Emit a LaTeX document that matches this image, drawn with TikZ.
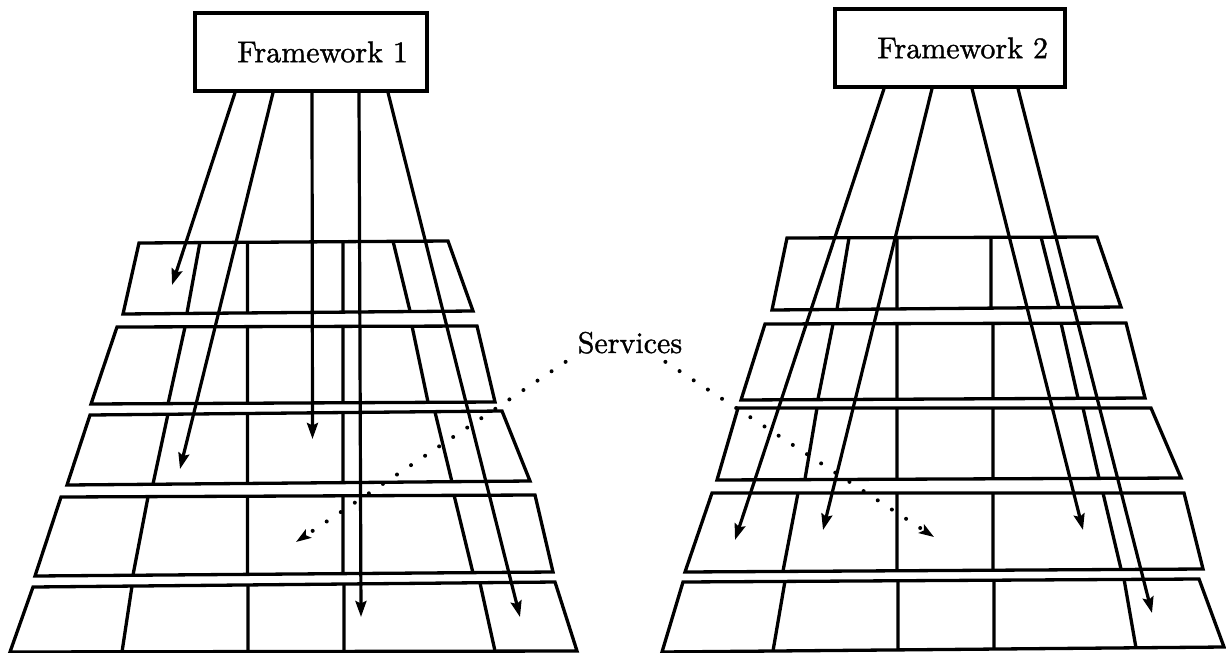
\documentclass[tikz,border=0pt]{standalone}
\usepackage{fontspec}
\newfontfamily\figfont{lmroman10-regular.otf}[FakeBold=1.2]
\usetikzlibrary{arrows.meta,calc}
\begin{document}
\begin{tikzpicture}[x=1pt,y=-1pt,
  cell/.style={line width=3.3pt, line join=miter},
  fwbox/.style={draw, line width=3.3pt, inner sep=0pt, minimum height=78pt,
    align=right, font=\figfont\fontsize{30}{36}\selectfont},
  svclabel/.style={inner sep=0pt, anchor=base, font=\figfont\fontsize{30}{36}\selectfont},
  callarrow/.style={line width=3.2pt, -{Stealth[length=16pt,width=11pt,inset=2.5pt]}},
  svcarrow/.style={line width=4pt, line cap=round, dash pattern=on 0pt off 16.9pt,
    -{Stealth[length=15pt,width=10pt,inset=3pt]}}]
\useasboundingbox (0,0) rectangle (1226,653);

% ---------- left stack of layers ----------
\draw[cell] (139,243) -- (448,241) -- (473,311) -- (123,314) -- cycle;
\draw[cell] (200,242) -- (187,313) (247.5,242) -- (247.5,313) (343,241) -- (343,312) (393,241) -- (410,311);
\draw[cell] (117,327) -- (477,326) -- (495,402) -- (91,404) -- cycle;
\draw[cell] (185,327) -- (168,404) (247.5,327) -- (247.5,403) (343,326) -- (343,403) (412,326) -- (428,402);
\draw[cell] (90,415) -- (502,411) -- (530,481) -- (67,485) -- cycle;
\draw[cell] (168,414) -- (153,484) (247.5,414) -- (247.5,484) (343,413) -- (343,483) (435,412) -- (452,482);
\draw[cell] (61,497) -- (535,495) -- (553,572) -- (35,576) -- cycle;
\draw[cell] (148,497) -- (133,575) (247.5,496) -- (247.5,575) (343,496) -- (343,574) (454,495) -- (473,573);
\draw[cell] (33,587) -- (555,582) -- (577,651) -- (10,652) -- cycle;
\draw[cell] (132,586) -- (122,652) (248,585) -- (248,652) (344,584) -- (344,652) (480,583) -- (495,651);

% ---------- right stack of layers ----------
\draw[cell] (787,238) -- (1097,237) -- (1121,307) -- (772,310) -- cycle;
\draw[cell] (849,238) -- (837,309) (897,238) -- (897,309) (991,238) -- (991,308) (1041,237) -- (1059,308);
\draw[cell] (765,324) -- (1126,323) -- (1145,398) -- (741,400) -- cycle;
\draw[cell] (833,324) -- (818,399) (897,324) -- (897,399) (993,323) -- (993,399) (1061,323) -- (1078,398);
\draw[cell] (738,408) -- (1151,408) -- (1181,478) -- (717,480) -- cycle;
\draw[cell] (817,408) -- (805,479) (897,408) -- (897,479) (993,408) -- (993,479) (1083,408) -- (1099,478);
\draw[cell] (712,493) -- (1184,493) -- (1203,569) -- (685,572) -- cycle;
\draw[cell] (798,493) -- (783,571) (897,493) -- (897,571) (993,493) -- (993,570) (1103,493) -- (1121,569);
\draw[cell] (683,582) -- (1199,579) -- (1224,647) -- (662,652) -- cycle;
\draw[cell] (785,581) -- (773,651) (898,581) -- (898,650) (994,580) -- (994,649) (1124,579) -- (1136,648);

% ---------- frameworks ----------
\node[fwbox, minimum width=232pt, text width=194pt] (fw1) at (311,52) {Framework 1};
\node[fwbox, minimum width=230pt, text width=196pt] (fw2) at (950,48) {Framework 2};

% arrow end points
\coordinate (a1) at (172,285);
\coordinate (a2) at (180,469);
\coordinate (a3) at (312.5,439);
\coordinate (a4) at (361,617);
\coordinate (a5) at (520,617);
\coordinate (b1) at (735,540);
\coordinate (b2) at (823,530);
\coordinate (b3) at (1083,530);
\coordinate (b4) at (1152,613);

\draw[callarrow] ($(fw1.south)+(-76,0)$) -- (a1);
\draw[callarrow] ($(fw1.south)+(-38,0)$) -- (a2);
\draw[callarrow] ($(fw1.south)+(1,0)$) -- (a3);
\draw[callarrow] ($(fw1.south)+(48,0)$) -- (a4);
\draw[callarrow] ($(fw1.south)+(77,0)$) -- (a5);

\draw[callarrow] ($(fw2.south)+(-66,0)$) -- (b1);
\draw[callarrow] ($(fw2.south)+(-18,0)$) -- (b2);
\draw[callarrow] ($(fw2.south)+(22,0)$) -- (b3);
\draw[callarrow] ($(fw2.south)+(68,0)$) -- (b4);

% ---------- services ----------
\node[svclabel] (svc) at (630,353) {Services};
\coordinate (s1) at (296,542);
\coordinate (s2) at (934,537);
\draw[svcarrow] ($(svc.south west)+(-12,8)$) -- (s1);
\draw[svcarrow] ($(svc.south east)+(-17,8)$) -- (s2);
\end{tikzpicture}
\end{document}
